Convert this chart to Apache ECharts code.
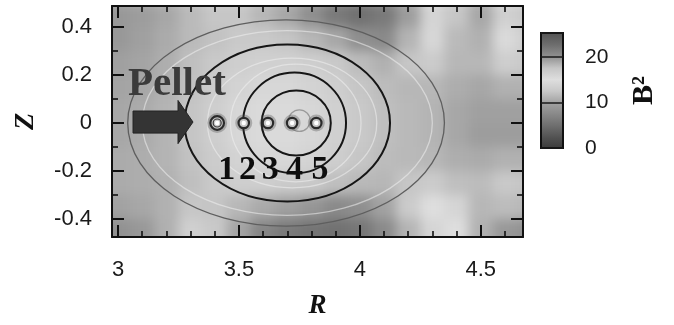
<!DOCTYPE html>
<html><head><meta charset="utf-8">
<script src="https://cdn.jsdelivr.net/npm/echarts@6/dist/echarts.min.js"></script>
<style>
html,body{margin:0;padding:0;background:#fff;}
#wrap{position:relative;width:674px;height:325px;}
#clip{position:absolute;left:112px;top:6px;width:411px;height:231px;overflow:hidden;}
#bg{position:absolute;left:-112px;top:-6px;width:674px;height:325px;filter:blur(6px);}
#main{position:absolute;left:0;top:0;width:674px;height:325px;}
</style>
</head><body>
<div id="wrap"><div id="clip"><div id="bg"></div></div><div id="main"></div></div>
<script>
// ---------- data ----------
const heatR = [3.0,3.1,3.2,3.3,3.4,3.5,3.6,3.7,3.8,3.9,4.0,4.1,4.2,4.3,4.4,4.5,4.6,4.7];
const heatZ = [0.45,0.35,0.25,0.15,0.05,-0.05,-0.15,-0.25,-0.35,-0.45];
const b2Zp45 = [9.0,9.5,10.3,11.6,12.4,12.4,11.4,10.3,8.2,6.2,5.3,6.2,9.5,14.0,12.4,10.3,13.4,12.6];
const b2Zp35 = [9.0,9.8,10.6,11.6,12.1,12.6,12.6,12.3,11.4,10.3,8.2,7.7,11.2,14.2,11.6,11.0,14.5,13.2];
const b2Zp25 = [9.8,10.1,10.8,11.9,12.6,13.2,13.4,13.4,13.2,12.6,11.7,11.0,12.4,12.8,11.4,11.4,13.2,12.6];
const b2Zp15 = [10.1,10.3,11.0,12.1,12.9,13.8,14.2,14.2,13.8,13.2,12.4,11.7,11.4,11.4,10.7,10.3,11.0,11.0];
const b2Zp05 = [10.3,10.6,11.2,12.3,13.2,14.2,14.5,14.5,14.2,13.4,12.6,11.9,11.5,11.2,10.3,9.8,9.8,9.8];
const b2Zm05 = [10.3,10.6,11.2,12.3,13.2,14.2,14.5,14.5,14.2,13.4,12.6,11.9,11.5,11.2,10.3,9.5,9.5,9.5];
const b2Zm15 = [10.6,10.7,11.2,12.1,12.9,13.8,14.2,14.2,13.8,13.2,12.4,11.7,11.5,11.4,10.8,10.6,11.0,11.0];
const b2Zm25 = [10.6,10.7,11.0,11.9,12.6,13.2,13.2,12.8,12.6,11.9,11.5,11.4,12.4,12.8,11.9,11.7,12.6,12.3];
const b2Zm35 = [10.0,10.3,11.0,12.4,12.3,11.4,10.5,9.8,8.8,7.7,8.2,10.0,12.8,15.0,14.0,11.4,11.7,11.4];
const b2Zm45 = [8.4,9.0,10.9,13.4,12.6,10.1,7.2,6.2,5.6,5.3,5.8,7.7,11.2,14.0,15.0,11.0,9.0,8.4];
const b2Rows = [b2Zp45,b2Zp35,b2Zp25,b2Zp15,b2Zp05,b2Zm05,b2Zm15,b2Zm25,b2Zm35,b2Zm45];

// colour scale (B^2 -> grey)
const cbValues = [0,2.5,5,7.5,10,12.5,15,17.5,20,22.5,25];
const cbColors = ['#3a3a3a','#525252','#6e6e6e','#888888','#a2a2a2','#c8c8c8','#dedede','#c6c6c6','#909090','#6e6e6e','#555555'];
const cbTop = 25.3;

// flux surfaces (centre R, half-width in R, half-height in Z)
const outerSurfR = [3.695], outerSurfA = [0.655], outerSurfB = [0.43];
const darkSurfR = [3.70, 3.73, 3.737], darkSurfA = [0.425, 0.213, 0.143], darkSurfB = [0.327, 0.21, 0.135];
const lightSurfR = [3.70, 3.72, 3.735], lightSurfA = [0.60, 0.35, 0.27], lightSurfB = [0.385, 0.27, 0.245];
const axisSurfR = [3.75], axisSurfZ = [0.01], axisSurfA = [0.045], axisSurfB = [0.045];

// pellet positions and labels
const pelletR = [3.41, 3.52, 3.62, 3.72, 3.82];
const pelletZ = [0, 0, 0, 0, 0];
const pelletLabels = ['1','2','3','4','5'];
const pelletLabelR = [3.45, 3.535, 3.63, 3.73, 3.835];
const pelletLabelZ = -0.196;
const pelletTextR = 3.041, pelletTextZ = 0.1625;
// arrow: tail R, head-base R, tip R, Z, shaft half-height, head half-height
const arrowDef = [3.062, 3.248, 3.31, 0.004, 0.046, 0.09];

const rMin = 2.975, rMax = 4.675, zMin = -0.475, zMax = 0.4875;

// ---------- background heat map (blurred layer) ----------
const heatData = [];
heatZ.forEach((z, j) => heatR.forEach((r, i) => heatData.push([r, z, b2Rows[j][i], i, j])));
const dR = heatR[1] - heatR[0], dZ = heatZ[0] - heatZ[1];
const bg = echarts.init(document.getElementById('bg'), null, {renderer: 'canvas'});
bg.setOption({
  animation: false,
  grid: {left: 112, top: 6, width: 411, height: 231, outerBoundsMode: 'none'},
  xAxis: {type: 'value', min: rMin, max: rMax, show: false},
  yAxis: {type: 'value', min: zMin, max: zMax, show: false},
  visualMap: {show: false, type: 'continuous', min: 0, max: 25, dimension: 2, inRange: {color: cbColors}},
  series: [{
    type: 'custom', clip: false, data: heatData,
    renderItem: function (params, api) {
      const r = api.value(0), z = api.value(1), i = api.value(3), j = api.value(4);
      const p0 = api.coord([r - dR / 2, z + dZ / 2]);
      const p1 = api.coord([r + dR / 2, z - dZ / 2]);
      let x0 = p0[0], y0 = p0[1], x1 = p1[0], y1 = p1[1];
      if (i === 0) x0 -= 40;
      if (i === heatR.length - 1) x1 += 40;
      if (j === 0) y0 -= 40;
      if (j === heatZ.length - 1) y1 += 40;
      return {type: 'rect', shape: {x: x0, y: y0, width: x1 - x0 + 1, height: y1 - y0 + 1},
        style: {fill: api.visual('color')}};
    }
  }]
});

// ---------- main chart ----------
const tickFont = {fontFamily: 'Liberation Sans', fontSize: 22, color: '#1a1a1a'};
const lineCol = '#111';
function mainX(pos, withLabel) {
  return {
    gridIndex: 0, type: 'value', min: rMin, max: rMax, splitNumber: 4, position: pos, z: 10,
    axisLine: {show: true, onZero: false, lineStyle: {color: lineCol, width: 2}},
    axisTick: {show: true, inside: true, length: 12, lineStyle: {color: lineCol, width: 2}},
    minorTick: {show: true, splitNumber: 5, length: 6, lineStyle: {color: lineCol, width: 1.6}},
    splitLine: {show: false},
    axisLabel: Object.assign({show: withLabel, showMinLabel: false, showMaxLabel: false, margin: 22}, tickFont),
    name: withLabel ? 'R' : '', nameLocation: 'middle', nameGap: 56,
    nameTextStyle: {fontFamily: 'Liberation Serif', fontWeight: 'bold', fontStyle: 'italic', fontSize: 27, color: '#111'}
  };
}
function mainY(pos, withLabel) {
  return {
    gridIndex: 0, type: 'value', min: zMin, max: zMax, splitNumber: 5, position: pos, z: 10,
    axisLine: {show: true, onZero: false, lineStyle: {color: lineCol, width: 2}},
    axisTick: {show: true, inside: true, length: 12, lineStyle: {color: lineCol, width: 2}},
    minorTick: {show: true, splitNumber: 2, length: 6, lineStyle: {color: lineCol, width: 1.6}},
    splitLine: {show: false},
    axisLabel: Object.assign({show: withLabel, showMinLabel: false, showMaxLabel: false, margin: 20}, tickFont),
    name: withLabel ? 'Z' : '', nameLocation: 'middle', nameGap: 72,
    nameTextStyle: {fontFamily: 'Liberation Serif', fontWeight: 'bold', fontStyle: 'italic', fontSize: 28, color: '#111'}
  };
}
function surfSeries(cr, cz, a, b, stroke, width, z) {
  return {
    type: 'custom', xAxisIndex: 0, yAxisIndex: 0, clip: true, z: z,
    data: cr.map((r, i) => [r, cz[i], a[i], b[i]]),
    renderItem: function (params, api) {
      const c = api.coord([api.value(0), api.value(1)]);
      const rx = Math.abs(api.size([api.value(2), 0])[0]);
      const ry = Math.abs(api.size([0, api.value(3)])[1]);
      return {type: 'ellipse', shape: {cx: c[0], cy: c[1], rx: rx, ry: ry},
        style: {fill: null, stroke: stroke, lineWidth: width}};
    }
  };
}
const zeros = (arr) => arr.map(() => 0);

const main = echarts.init(document.getElementById('main'), null, {renderer: 'canvas'});
main.setOption({
  animation: false,
  backgroundColor: 'transparent',
  grid: [
    {left: 112, top: 6, width: 411, height: 231, outerBoundsMode: 'none'},
    {left: 541, top: 33, width: 22, height: 115, outerBoundsMode: 'none'}
  ],
  xAxis: [mainX('bottom', true), mainX('top', false),
    {gridIndex: 1, type: 'value', min: 0, max: 1, show: false}],
  yAxis: [mainY('left', true), mainY('right', false),
    {gridIndex: 1, type: 'value', min: 0, max: cbTop, interval: 10, position: 'right', z: 10,
     axisLine: {show: false}, axisTick: {show: false},
     splitLine: {show: true, lineStyle: {color: '#1a1a1a', width: 1.5}},
     axisLabel: Object.assign({showMaxLabel: false, margin: 22}, tickFont, {fontSize: 21}),
     name: 'B²', nameLocation: 'middle', nameGap: 66,
     nameTextStyle: {fontFamily: 'Liberation Serif', fontWeight: 'bold', fontSize: 30, color: '#111'}}],
  series: [
    surfSeries(lightSurfR, zeros(lightSurfR), lightSurfA, lightSurfB, 'rgba(240,240,240,0.55)', 1.3, 2),
    surfSeries(outerSurfR, zeros(outerSurfR), outerSurfA, outerSurfB, '#5e5e5e', 1.3, 3),
    surfSeries(darkSurfR, zeros(darkSurfR), darkSurfA, darkSurfB, '#161616', 2, 3),
    surfSeries(axisSurfR, axisSurfZ, axisSurfA, axisSurfB, '#9a9a9a', 1.2, 3),
    { // pellets
      type: 'custom', xAxisIndex: 0, yAxisIndex: 0, z: 5,
      data: pelletR.map((r, i) => [r, pelletZ[i]]),
      renderItem: function (params, api) {
        const c = api.coord([api.value(0), api.value(1)]);
        const big = params.dataIndex === 0;
        const kids = [
          {type: 'circle', shape: {cx: c[0], cy: c[1], r: big ? 10 : 8.5}, style: {fill: 'rgba(70,70,70,0.32)'}},
          {type: 'circle', shape: {cx: c[0], cy: c[1], r: big ? 6.8 : 5.2}, style: {fill: '#c8c8c8', stroke: '#2a2a2a', lineWidth: 2.2}}
        ];
        if (big) kids.push({type: 'circle', shape: {cx: c[0], cy: c[1], r: 4}, style: {fill: null, stroke: '#3a3a3a', lineWidth: 1.2}});
        kids.push({type: 'circle', shape: {cx: c[0], cy: c[1], r: 2.2}, style: {fill: '#ffffff'}});
        return {type: 'group', children: kids};
      }
    },
    { // arrow
      type: 'custom', xAxisIndex: 0, yAxisIndex: 0, z: 6,
      data: [arrowDef],
      renderItem: function (params, api) {
        const t = api.value(0), hb = api.value(1), tip = api.value(2), z = api.value(3), sh = api.value(4), hh = api.value(5);
        const pts = [[t, z + sh], [hb, z + sh], [hb, z + hh], [tip, z], [hb, z - hh], [hb, z - sh], [t, z - sh]].map(p => api.coord(p));
        return {type: 'polygon', shape: {points: pts}, style: {fill: '#343434', stroke: '#222', lineWidth: 1}};
      }
    },
    { // "Pellet" text
      type: 'custom', xAxisIndex: 0, yAxisIndex: 0, z: 7,
      data: [[pelletTextR, pelletTextZ]],
      renderItem: function (params, api) {
        const c = api.coord([api.value(0), api.value(1)]);
        return {type: 'text', x: c[0], y: c[1], style: {text: 'Pellet', fill: '#3b3b3b',
          font: 'bold 41px "Liberation Serif"', align: 'left', verticalAlign: 'middle'}};
      }
    },
    { // pellet numbers
      type: 'custom', xAxisIndex: 0, yAxisIndex: 0, z: 7,
      data: pelletLabelR.map((r, i) => [r, pelletLabelZ, i]),
      renderItem: function (params, api) {
        const c = api.coord([api.value(0), api.value(1)]);
        return {type: 'text', x: c[0], y: c[1], style: {text: pelletLabels[api.value(2)], fill: '#0e0e0e',
          font: 'bold 34px "Liberation Serif"', align: 'center', verticalAlign: 'middle'}};
      }
    },
    { // colour bar
      type: 'custom', xAxisIndex: 2, yAxisIndex: 2, z: 2,
      data: [[0, 0]],
      renderItem: function (params, api) {
        const p0 = api.coord([0, cbTop]), p1 = api.coord([1, 0]);
        const stops = cbValues.map((v, i) => ({offset: v / cbTop, color: cbColors[i]}));
        stops.push({offset: 1, color: cbColors[cbColors.length - 1]});
        return {type: 'rect', shape: {x: p0[0], y: p0[1], width: p1[0] - p0[0], height: p1[1] - p0[1]},
          style: {fill: new echarts.graphic.LinearGradient(0, 1, 0, 0, stops), stroke: '#111', lineWidth: 2}};
      }
    }
  ]
});
</script>
</body></html>
